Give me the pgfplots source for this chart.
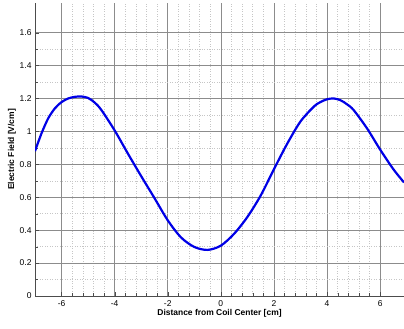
\documentclass[border=0pt]{standalone}
\usepackage{fontspec}
\setmainfont{Liberation Sans}
\usepackage{pgfplots}
\pgfplotsset{compat=1.18}
\begin{document}
\begin{tikzpicture}
\begin{axis}[
  scale only axis,
  width=369bp, height=293bp,
  xmin=-7, xmax=6.9,
  ymin=0, ymax=1.78,
  xtick={-6,-4,-2,0,2,4,6},
  ytick={0,0.2,0.4,0.6,0.8,1,1.2,1.4,1.6},
  yticklabels={0,0.2,0.4,0.6,0.8,1,1.2,1.4,1.6},
  minor x tick num=4,
  minor y tick num=1,
  grid=both,
  major grid style={line width=0.6bp, draw=gray!90},
  minor grid style={line width=0.5bp, draw=gray!45, dotted},
  tick align=inside,
  tick style={draw=black!70},
  axis line style={draw=black!70},
  axis x line*=bottom,
  axis y line*=left,
  ticklabel style={font=\fontsize{8.5}{10}\selectfont},
  xticklabel style={yshift=-1bp},
  /pgf/number format/assume math mode=true,
  xlabel={\textbf{Distance from Coil Center [cm]}},
  ylabel={\textbf{Electric Field [V/cm]}},
  label style={font=\fontsize{8.5}{10}\selectfont},
  xlabel style={yshift=4bp},
  ylabel style={yshift=-3bp},
  clip=true,
]
\addplot[smooth, line width=2.2bp, color={rgb,255:red,0;green,0;blue,230}] coordinates {
(-7.0,0.88) (-6.75,0.99) (-6.5,1.08) (-6.25,1.14) (-6.0,1.178) (-5.75,1.2)
(-5.5,1.21) (-5.25,1.212) (-5.0,1.203) (-4.75,1.175) (-4.5,1.13)
(-4.0,1.006) (-3.5,0.865) (-3.0,0.728) (-2.5,0.595) (-2.0,0.46) (-1.5,0.356)
(-1.0,0.298) (-0.5,0.28) (0.0,0.306) (0.5,0.378) (1.0,0.48) (1.5,0.61)
(2.0,0.77) (2.5,0.925) (3.0,1.06) (3.5,1.15) (3.75,1.178) (4.0,1.195)
(4.25,1.2) (4.5,1.19) (4.75,1.165) (5.0,1.13) (5.5,1.02) (6.0,0.89)
(6.5,0.77) (6.9,0.69)
};
\coordinate (sw) at (rel axis cs:0,0);
\coordinate (ne) at (rel axis cs:1,1);
\end{axis}
\pgfresetboundingbox
\path[use as bounding box] ([shift={(-35bp,-33bp)}]sw) rectangle ([shift={(0bp,3bp)}]ne);
\end{tikzpicture}
\end{document}
